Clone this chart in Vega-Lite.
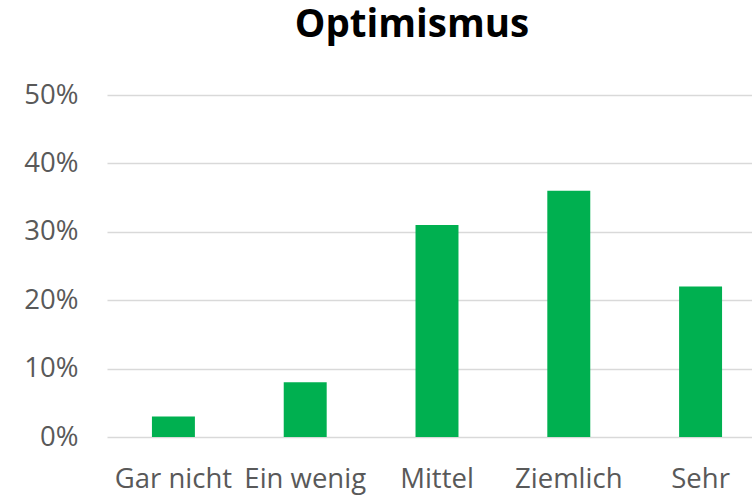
{
  "$schema": "https://vega.github.io/schema/vega-lite/v6.json",
  "autosize": "none",
  "padding": {"left": 107, "top": 95, "right": 0, "bottom": 60},
  "width": 660,
  "height": 342,
  "background": "white",
  "title": {
    "text": "Optimismus",
    "font": "Open Sans",
    "fontSize": 38.5,
    "fontWeight": "bold",
    "color": "#000000",
    "anchor": "middle",
    "baseline": "alphabetic",
    "dx": -25,
    "offset": 6
  },
  "data": {
    "values": [
      {"kategorie": "Gar nicht", "anteil": 0.03},
      {"kategorie": "Ein wenig", "anteil": 0.08},
      {"kategorie": "Mittel", "anteil": 0.31},
      {"kategorie": "Ziemlich", "anteil": 0.36},
      {"kategorie": "Sehr", "anteil": 0.22}
    ]
  },
  "mark": {"type": "bar", "color": "#00B050"},
  "encoding": {
    "x": {
      "field": "kategorie",
      "type": "nominal",
      "sort": null,
      "scale": {"paddingInner": 0.674, "paddingOuter": 0.341},
      "axis": {
        "title": null,
        "labelAngle": 0,
        "labelFont": "Open Sans",
        "labelFontSize": 27.5,
        "labelColor": "#595959",
        "labelPadding": 28,
        "labelOverlap": false,
        "labelLimit": 200,
        "ticks": false,
        "domain": false,
        "grid": false
      }
    },
    "y": {
      "field": "anteil",
      "type": "quantitative",
      "scale": {"domain": [0, 0.5], "nice": false},
      "axis": {
        "title": null,
        "format": ".0%",
        "values": [0, 0.1, 0.2, 0.3, 0.4, 0.5],
        "labelFont": "Open Sans",
        "labelFontSize": 27.5,
        "labelColor": "#595959",
        "labelPadding": 29,
        "ticks": false,
        "domain": false,
        "grid": true,
        "gridColor": "#D9D9D9",
        "gridWidth": 1.5
      }
    }
  },
  "config": {"view": {"stroke": null}}
}
